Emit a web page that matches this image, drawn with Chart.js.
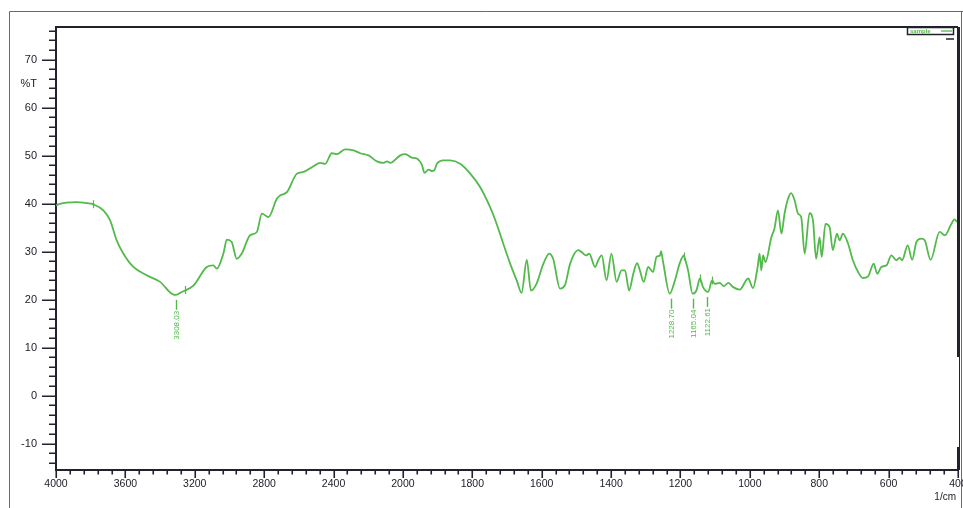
<!DOCTYPE html>
<html><head><meta charset="utf-8">
<script src="https://cdn.jsdelivr.net/npm/chart.js@4.4.1/dist/chart.umd.min.js"></script>
<style>html,body{margin:0;padding:0;background:#fff}#wrap{width:963px;height:508px;position:relative}</style>
</head><body><div id="wrap"><canvas id="c" width="963" height="508"></canvas></div>
<script>
// ---- data (wavenumber in 1/cm, transmittance in %T) ----
const wavenumbers = [4000,3987,3881,3800,3785,3727,3688,3650,3612,3554,3477,3400,3323,3308,3275,3208,3131,3093,3073,3035,3015,2987,2958,2929,2881,2842,2813,2775,2727,2708,2669,2611,2573,2516,2477,2448,2410,2381,2333,2285,2246,2198,2150,2112,2092,2073,2015,1993,1974,1960,1945,1938,1926,1917,1910,1902,1883,1864,1835,1806,1778,1749,1730,1711,1691,1672,1658,1643,1631,1615,1595,1578,1567,1547,1533,1518,1495,1485,1472,1463,1446,1437,1427,1413,1399,1384,1370,1360,1348,1336,1325,1317,1306,1293,1279,1269,1259,1256,1250,1231,1216,1202,1190,1187,1178,1165,1154,1144,1135,1120,1109,1101,1087,1075,1062,1048,1029,1005,991,977,972,967,962,955,938,929,919,909,900,890,881,871,861,852,842,828,818,809,799,793,782,770,761,749,741,732,717,703,688,674,659,643,633,621,606,592,578,568,561,545,532,520,506,496,479,453,438,419,410,403];
const transmittance = [39.6,39.85,40.33,40.0,39.85,38.6,36.5,32.35,29.6,26.8,25.06,23.7,21.04,21.0,21.6,22.9,26.8,27.15,26.45,29.6,32.5,32.0,28.5,29.6,33.4,34.1,37.9,37.2,41.0,41.7,42.4,46.25,46.6,47.8,48.5,48.3,50.5,50.3,51.3,51.1,50.5,50.06,48.8,48.5,48.8,48.5,50.06,50.3,49.6,49.4,48.0,46.4,47.1,46.8,46.9,48.3,49.0,49.0,48.3,46.25,43.5,39.3,35.8,31.7,27.5,24.0,21.4,28.3,21.9,23.3,27.5,29.6,28.5,22.3,23.0,27.5,30.3,29.9,29.2,29.6,26.8,28.2,29.2,24.0,29.6,23.7,26.1,26.1,21.9,25.4,27.6,26.1,23.7,26.8,25.75,28.9,29.2,30.1,27.8,21.25,24.0,27.6,29.2,28.5,26.1,21.25,21.9,24.4,22.6,21.6,24.0,23.3,23.5,22.8,23.5,22.6,22.1,24.4,22.4,27.1,29.6,26.1,29.2,27.8,33.0,34.8,38.6,33.75,37.9,41.0,42.2,40.7,37.9,37.2,29.6,38.0,36.5,28.5,33.0,28.9,35.8,35.1,30.3,33.75,32.35,33.75,31.7,28.2,25.75,24.5,24.85,27.5,25.4,26.8,27.15,29.2,28.2,28.75,28.2,31.3,28.3,32.0,32.7,32.35,28.3,34.1,33.4,35.8,36.7,36.2];
const xTickLabels = [4000,3600,3200,2800,2400,2000,1800,1600,1400,1200,1000,800,600,400];
const yTickLabels = [-10,0,10,20,30,40,50,60,70];
const yAxisLabel = '%T';
const xAxisUnit = '1/cm';
const seriesName = 'sample';
const peakWavenumbers = [3308.03,1228.70,1165.04,1122.61];
const peakLabels = ['3308.03','1228.70','1165.04','1122.61'];
const peakValues = [21.0,21.25,21.25,21.6];
const markerWavenumbers = [3785,3256,1190,1144,1109];
const markerValues = [39.85,22.0,29.0,24.4,24.0];

// two-scale wavenumber axis: above 2000 1/cm compressed by half
const toU = w => w <= 2000 ? w : 2000 + (w - 2000) / 2;
const fromU = u => u <= 2000 ? u : 2000 + (u - 2000) * 2;

const GREEN = '#52b94b';
const DARK = '#22222c';
const FONT = 'Liberation Sans, Arial, sans-serif';

const points = wavenumbers.map((w, i) => ({x: toU(w), y: transmittance[i]}));

const decor = {
  id: 'decor',
  beforeDraw(chart) {
    const ctx = chart.ctx;
    ctx.save();
    ctx.fillStyle = '#fff';
    ctx.fillRect(0, 0, chart.width, chart.height);
    ctx.strokeStyle = '#6a6a6a';
    ctx.lineWidth = 1;
    ctx.beginPath();
    ctx.moveTo(9.5, 508); ctx.lineTo(9.5, 11.5); ctx.lineTo(963, 11.5);
    ctx.moveTo(961.5, 11.5); ctx.lineTo(961.5, 508);
    ctx.stroke();
    ctx.restore();
  },
  afterDraw(chart) {
    const ctx = chart.ctx;
    const xs = chart.scales.x, ys = chart.scales.y;
    const a = chart.chartArea;
    ctx.save();
    // x tick marks
    ctx.strokeStyle = DARK;
    ctx.lineWidth = 1.6;
    ctx.beginPath();
    xs.ticks.forEach(t => {
      const px = Math.round(xs.getPixelForValue(t.value)) + 0.25;
      const len = (t.value % 200 === 0) ? 8 : 4.5;
      ctx.moveTo(px, a.bottom); ctx.lineTo(px, a.bottom + len);
    });
    // y tick marks
    ys.ticks.forEach(t => {
      if (t.value % 2 !== 0) return;
      const py = Math.round(ys.getPixelForValue(t.value)) + 0.25;
      const len = (t.value % 10 === 0) ? 14 : 7;
      ctx.moveTo(a.left - len, py); ctx.lineTo(a.left, py);
    });
    ctx.stroke();
    // top and right border
    ctx.lineWidth = 2;
    ctx.beginPath();
    ctx.moveTo(a.left, a.top); ctx.lineTo(a.right, a.top);
    ctx.moveTo(a.right, a.top); ctx.lineTo(a.right, 357);
    ctx.moveTo(a.right, 447); ctx.lineTo(a.right, a.bottom);
    ctx.stroke();
    ctx.lineWidth = 1;
    ctx.beginPath();
    ctx.moveTo(a.right + 1.5, a.top); ctx.lineTo(a.right + 1.5, a.bottom);
    ctx.stroke();
    // unit label
    ctx.fillStyle = DARK;
    ctx.font = '10px ' + FONT;
    ctx.textAlign = 'right';
    ctx.textBaseline = 'middle';
    ctx.fillText(xAxisUnit, 956, 497);
    // peak labels
    ctx.strokeStyle = GREEN;
    ctx.fillStyle = GREEN;
    ctx.lineWidth = 1.4;
    peakWavenumbers.forEach((w, i) => {
      const px = Math.round(xs.getPixelForValue(toU(w))) + 0.5;
      const py = ys.getPixelForValue(peakValues[i]) + 5;
      ctx.beginPath();
      ctx.moveTo(px, py); ctx.lineTo(px, py + 10);
      ctx.stroke();
      ctx.save();
      ctx.translate(px, py + 11);
      ctx.rotate(-Math.PI / 2);
      ctx.font = '8px ' + FONT;
      ctx.textAlign = 'right';
      ctx.textBaseline = 'middle';
      ctx.fillText(peakLabels[i], 0, 0.5);
      ctx.restore();
    });
    // small unlabeled peak markers
    ctx.lineWidth = 1.2;
    ctx.beginPath();
    markerWavenumbers.forEach((w, i) => {
      const px = Math.round(xs.getPixelForValue(toU(w))) + 0.5;
      const py = ys.getPixelForValue(markerValues[i]);
      ctx.moveTo(px, py - 4); ctx.lineTo(px, py + 4);
    });
    ctx.stroke();
    // legend box
    ctx.strokeStyle = DARK;
    ctx.lineWidth = 1.5;
    ctx.strokeRect(907.5, 27.5, 46, 7);
    ctx.beginPath();
    ctx.moveTo(946, 39); ctx.lineTo(954, 39);
    ctx.stroke();
    ctx.fillStyle = GREEN;
    ctx.font = 'bold 6px ' + FONT;
    ctx.textAlign = 'left';
    ctx.textBaseline = 'middle';
    ctx.fillText(seriesName, 910, 31.5);
    ctx.strokeStyle = GREEN;
    ctx.lineWidth = 1.3;
    ctx.beginPath();
    ctx.moveTo(941, 31); ctx.lineTo(952, 31);
    ctx.stroke();
    ctx.restore();
  }
};

new Chart(document.getElementById('c'), {
  type: 'line',
  data: {
    datasets: [{
      label: seriesName,
      data: points,
      borderColor: GREEN,
      borderWidth: 1.8,
      pointRadius: 0,
      cubicInterpolationMode: 'monotone',
      fill: false
    }]
  },
  options: {
    responsive: false,
    animation: false,
    devicePixelRatio: 1,
    layout: {padding: {top: 27, right: 5, left: 0, bottom: 0}},
    plugins: {legend: {display: false}, tooltip: {enabled: false}},
    scales: {
      x: {
        type: 'linear',
        reverse: true,
        min: 400,
        max: 3000,
        afterBuildTicks: s => {
          const t = [];
          for (let u = 400; u <= 3000; u += 40) t.push({value: u});
          s.ticks = t;
        },
        afterFit: s => { s.height = 38; s.paddingLeft = 0; s.paddingRight = 0; },
        grid: {display: true, drawOnChartArea: false, drawTicks: false},
        border: {display: true, color: DARK, width: 2},
        ticks: {
          autoSkip: false, maxRotation: 0, minRotation: 0, padding: 8,
          color: DARK, font: {size: 10.5, family: FONT},
          callback: v => {
            const w = Math.round(fromU(v));
            return xTickLabels.includes(w) && v % 200 === 0 ? String(w) : '';
          }
        }
      },
      y: {
        type: 'linear',
        min: -15.5,
        max: 76.8,
        afterBuildTicks: s => {
          const t = [];
          for (let v = -14; v <= 76; v += 2) t.push({value: v});
          t.push({value: 65});
          t.sort((p, q) => p.value - q.value);
          s.ticks = t;
        },
        afterFit: s => { s.width = 56; },
        grid: {display: true, drawOnChartArea: false, drawTicks: false},
        border: {display: true, color: DARK, width: 2},
        ticks: {
          autoSkip: false, padding: 19,
          color: DARK, font: {size: 11, family: FONT},
          callback: v => v === 65 ? yAxisLabel : (yTickLabels.includes(v) ? String(v) : '')
        }
      }
    }
  },
  plugins: [decor]
});
</script>
</body></html>
